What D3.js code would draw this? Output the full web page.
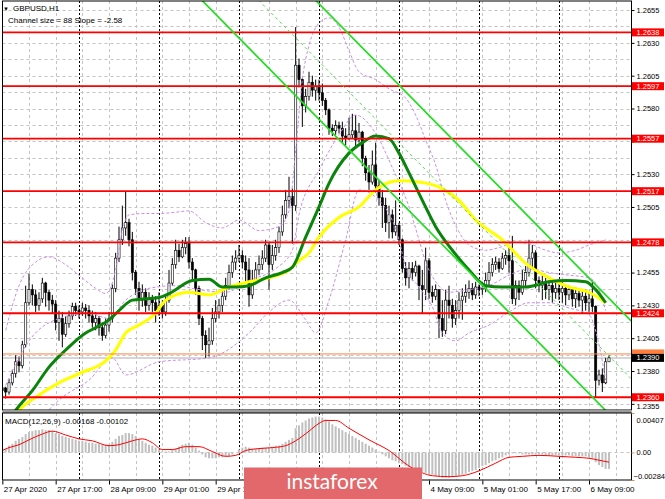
<!DOCTYPE html>
<html><head><meta charset="utf-8">
<script src="https://cdn.jsdelivr.net/npm/d3@7"></script>
<style>
html,body{margin:0;padding:0;background:#fff;}
svg{display:block;}
text{font-family:"Liberation Sans",Arial,sans-serif;}
</style></head>
<body>
<svg id="chart" width="665" height="499"></svg>
<script>
// ---------------- DATA ----------------
const symbolTitle = "GBPUSD,H1";
const channelText = "Channel size = 88 Slope = -2.58";
const macdTitle = "MACD(12,26,9) -0.00168 -0.00102";
const firstBar = 1; // bar index of the first candle (27 Apr 01:00), one bar per hour

const opens = [
1.2365,1.2367,1.2364,1.2371,1.2378,1.2387,1.2384,1.2400,1.2432,1.2442,1.2438,1.2430,1.2435,1.2447,1.2440,1.2434,1.2431,1.2417,1.2420,1.2408,1.2416,1.2422,1.2429,
1.2426,1.2425,1.2428,1.2426,1.2422,1.2417,1.2420,1.2413,1.2407,1.2415,1.2420,1.2443,1.2466,1.2480,1.2489,1.2493,1.2480,1.2455,1.2443,1.2434,1.2440,1.2430,1.2435,1.2432,
1.2426,1.2430,1.2425,1.2434,1.2447,1.2461,1.2472,1.2467,1.2474,1.2477,1.2463,1.2457,1.2443,1.2420,1.2407,1.2400,1.2403,1.2420,1.2425,1.2430,1.2437,1.2445,1.2455,1.2463,
1.2466,1.2468,1.2463,1.2457,1.2438,1.2449,1.2457,1.2461,1.2466,1.2476,1.2461,1.2468,1.2474,1.2486,1.2499,1.2510,1.2513,1.2506,1.2613,1.2602,1.2582,1.2589,1.2600,1.2594,
1.2597,1.2592,1.2586,1.2579,1.2565,1.2563,1.2567,1.2565,1.2559,1.2557,1.2560,1.2563,1.2556,1.2562,1.2542,1.2531,1.2524,1.2537,1.2521,1.2512,1.2506,1.2493,1.2499,1.2486,
1.2491,1.2480,1.2458,1.2451,1.2458,1.2455,1.2460,1.2445,1.2442,1.2464,1.2440,1.2437,1.2442,1.2420,1.2411,1.2434,1.2430,1.2420,1.2426,1.2434,1.2437,1.2440,1.2443,1.2438,
1.2444,1.2442,1.2443,1.2449,1.2455,1.2461,1.2463,1.2458,1.2466,1.2468,1.2464,1.2435,1.2445,1.2440,1.2449,1.2455,1.2466,1.2470,1.2449,1.2445,1.2448,1.2442,1.2445,1.2440,
1.2443,1.2440,1.2443,1.2438,1.2442,1.2435,1.2439,1.2434,1.2437,1.2432,1.2435,1.2429,1.2373,1.2377,1.2371,1.2387];
const highs = [
1.2369,1.2368,1.2374,1.2381,1.2392,1.2391,1.2403,1.2445,1.2454,1.2446,1.2442,1.2440,1.2451,1.2448,1.2442,1.2438,1.2434,1.2426,1.2425,1.2422,1.2426,1.2432,1.2432,
1.2430,1.2432,1.2431,1.2430,1.2426,1.2425,1.2422,1.2417,1.2420,1.2425,1.2446,1.2470,1.2490,1.2506,1.2517,1.2496,1.2486,1.2457,1.2448,1.2446,1.2443,1.2440,1.2438,1.2437,
1.2440,1.2434,1.2437,1.2457,1.2466,1.2480,1.2477,1.2480,1.2482,1.2482,1.2466,1.2458,1.2445,1.2422,1.2411,1.2413,1.2428,1.2434,1.2435,1.2442,1.2451,1.2461,1.2468,1.2472,
1.2476,1.2472,1.2468,1.2466,1.2457,1.2463,1.2468,1.2472,1.2480,1.2478,1.2476,1.2480,1.2490,1.2506,1.2518,1.2528,1.2519,1.2642,1.2618,1.2603,1.2595,1.2608,1.2605,1.2602,
1.2602,1.2599,1.2588,1.2580,1.2568,1.2571,1.2570,1.2570,1.2565,1.2573,1.2576,1.2575,1.2569,1.2563,1.2544,1.2537,1.2548,1.2554,1.2525,1.2518,1.2512,1.2506,1.2503,1.2510,
1.2493,1.2481,1.2463,1.2463,1.2463,1.2464,1.2461,1.2457,1.2474,1.2466,1.2445,1.2446,1.2442,1.2434,1.2442,1.2445,1.2435,1.2434,1.2440,1.2443,1.2446,1.2449,1.2447,1.2448,
1.2446,1.2448,1.2455,1.2463,1.2466,1.2467,1.2466,1.2470,1.2472,1.2474,1.2483,1.2449,1.2449,1.2457,1.2460,1.2480,1.2476,1.2472,1.2452,1.2453,1.2451,1.2449,1.2448,1.2449,
1.2447,1.2449,1.2445,1.2445,1.2443,1.2444,1.2443,1.2442,1.2442,1.2441,1.2449,1.2430,1.2381,1.2382,1.2390,1.2392];
const lows = [
1.2363,1.2359,1.2362,1.2369,1.2375,1.2379,1.2382,1.2398,1.2430,1.2430,1.2425,1.2426,1.2432,1.2429,1.2426,1.2424,1.2411,1.2403,1.2398,1.2406,1.2413,1.2419,1.2422,
1.2420,1.2422,1.2420,1.2417,1.2413,1.2411,1.2407,1.2403,1.2405,1.2410,1.2417,1.2440,1.2463,1.2476,1.2483,1.2475,1.2449,1.2438,1.2426,1.2429,1.2425,1.2426,1.2425,1.2417,
1.2422,1.2420,1.2422,1.2432,1.2445,1.2458,1.2463,1.2466,1.2469,1.2458,1.2449,1.2438,1.2415,1.2396,1.2390,1.2391,1.2400,1.2417,1.2420,1.2425,1.2434,1.2442,1.2451,1.2457,
1.2463,1.2458,1.2448,1.2429,1.2435,1.2448,1.2453,1.2457,1.2463,1.2442,1.2457,1.2464,1.2470,1.2483,1.2496,1.2504,1.2477,1.2502,1.2596,1.2566,1.2577,1.2586,1.2589,1.2586,
1.2586,1.2582,1.2575,1.2560,1.2559,1.2560,1.2561,1.2554,1.2552,1.2556,1.2557,1.2551,1.2554,1.2536,1.2525,1.2518,1.2522,1.2516,1.2506,1.2489,1.2486,1.2481,1.2481,1.2483,
1.2476,1.2455,1.2445,1.2443,1.2449,1.2452,1.2434,1.2424,1.2434,1.2435,1.2432,1.2434,1.2405,1.2406,1.2408,1.2420,1.2413,1.2415,1.2420,1.2419,1.2432,1.2435,1.2434,1.2435,
1.2437,1.2438,1.2440,1.2445,1.2452,1.2457,1.2455,1.2457,1.2461,1.2455,1.2431,1.2430,1.2434,1.2438,1.2444,1.2452,1.2457,1.2443,1.2440,1.2434,1.2435,1.2434,1.2432,1.2435,
1.2434,1.2432,1.2430,1.2434,1.2429,1.2428,1.2429,1.2424,1.2426,1.2425,1.2425,1.2360,1.2369,1.2364,1.2370,1.2387];
const closes = [
1.2367,1.2364,1.2371,1.2378,1.2387,1.2384,1.2400,1.2432,1.2442,1.2438,1.2430,1.2435,1.2447,1.2440,1.2434,1.2431,1.2417,1.2420,1.2408,1.2416,1.2422,1.2429,1.2426,
1.2425,1.2428,1.2426,1.2422,1.2417,1.2420,1.2413,1.2407,1.2415,1.2420,1.2443,1.2466,1.2480,1.2489,1.2493,1.2480,1.2455,1.2443,1.2434,1.2440,1.2430,1.2435,1.2432,1.2426,
1.2430,1.2425,1.2434,1.2447,1.2461,1.2472,1.2467,1.2474,1.2477,1.2463,1.2457,1.2443,1.2420,1.2407,1.2400,1.2403,1.2420,1.2425,1.2430,1.2437,1.2445,1.2455,1.2463,1.2466,
1.2468,1.2463,1.2457,1.2438,1.2449,1.2457,1.2461,1.2466,1.2476,1.2461,1.2468,1.2474,1.2486,1.2499,1.2510,1.2513,1.2506,1.2613,1.2602,1.2582,1.2589,1.2600,1.2594,1.2597,
1.2592,1.2586,1.2579,1.2565,1.2563,1.2567,1.2565,1.2559,1.2557,1.2560,1.2563,1.2556,1.2562,1.2542,1.2531,1.2524,1.2537,1.2521,1.2512,1.2506,1.2493,1.2499,1.2486,1.2491,
1.2480,1.2458,1.2451,1.2458,1.2455,1.2460,1.2445,1.2442,1.2464,1.2440,1.2437,1.2442,1.2420,1.2411,1.2434,1.2430,1.2420,1.2426,1.2434,1.2437,1.2440,1.2443,1.2438,1.2444,
1.2442,1.2443,1.2449,1.2455,1.2461,1.2463,1.2458,1.2466,1.2468,1.2464,1.2435,1.2445,1.2440,1.2449,1.2455,1.2466,1.2470,1.2449,1.2445,1.2448,1.2442,1.2445,1.2440,1.2443,
1.2440,1.2443,1.2438,1.2442,1.2435,1.2439,1.2434,1.2437,1.2432,1.2435,1.2429,1.2373,1.2377,1.2371,1.2387,1.2390];

// moving averages (bar index, price)
const maFastBars = [3,5,10,15,20,26,29,33,36,40,44,48,51,58,63,67,71,75,80,85,88,92,96,99,105,109,113,117,120,123,127,131,136,141,146,151,158,165,170,176,179,182];
const maFast = [1.2342,1.2350,1.2365,1.2383,1.2396,1.2409,1.2413,1.2419,1.2426,1.2434,1.2435,1.2436,1.2439,1.2449,1.2450,1.2444,1.2444,1.2445,1.2451,1.2455,1.2459,1.2482,1.2505,1.2523,1.2546,1.2554,1.2559,1.2557,1.2546,1.2531,1.2510,1.2490,1.2472,1.2457,1.2445,1.2444,1.2444,1.2448,1.2449,1.2448,1.2442,1.2432];
const maSlowBars = [4,6,11,18,24,33,35,38,42,47,50,57,63,69,75,81,87,90,93,96,102,108,113,120,126,133,138,143,151,158,165,171,177,182];
const maSlow = [1.2343,1.2350,1.2360,1.2371,1.2378,1.2390,1.2396,1.2409,1.2415,1.2424,1.2434,1.2440,1.2438,1.2444,1.2448,1.2451,1.2457,1.2464,1.2470,1.2482,1.2497,1.2505,1.2518,1.2525,1.2524,1.2519,1.2510,1.2495,1.2480,1.2462,1.2451,1.2444,1.2440,1.2432];

// bands (dashed violet)
const bbUpperBars = [2,6,11,15,20,24,29,32,35,37,39,44,48,53,57,62,67,72,78,84,87,89,91,93,96,99,102,105,108,113,117,122,125,128,131,134,138,141,146,150,155,159,164,168,173,177,182];
const bbUpper = [1.2411,1.2445,1.2463,1.2467,1.2461,1.2453,1.2443,1.2439,1.2457,1.2487,1.2499,1.2500,1.2500,1.2501,1.2502,1.2493,1.2489,1.2495,1.2487,1.2490,1.2502,1.2548,1.2602,1.2628,1.2645,1.2649,1.2642,1.2624,1.2608,1.2602,1.2595,1.2588,1.2575,1.2556,1.2537,1.2510,1.2486,1.2476,1.2472,1.2474,1.2478,1.2477,1.2472,1.2470,1.2472,1.2476,1.2480];
const bbMidBars = [2,9,18,27,33,38,45,53,60,68,75,83,88,90,96,102,107,113,118,123,126,128,131,135,141,147,153,159,165,171,177,180,182];
const bbMid = [1.2369,1.2403,1.2420,1.2424,1.2420,1.2434,1.2443,1.2445,1.2442,1.2440,1.2449,1.2458,1.2472,1.2499,1.2533,1.2560,1.2575,1.2561,1.2535,1.2505,1.2480,1.2463,1.2448,1.2440,1.2442,1.2445,1.2453,1.2458,1.2455,1.2453,1.2451,1.2442,1.2426];
const bbLowerBars = [12,18,27,34,38,48,63,75,81,87,92,95,99,104,108,114,120,122,126,130,133,137,141,147,153,159,165,171,177,180,182];
const bbLower = [1.2342,1.2358,1.2373,1.2390,1.2377,1.2387,1.2390,1.2409,1.2425,1.2434,1.2419,1.2409,1.2434,1.2480,1.2518,1.2510,1.2480,1.2459,1.2444,1.2429,1.2409,1.2403,1.2409,1.2415,1.2425,1.2432,1.2432,1.2428,1.2423,1.2400,1.2373];

// equidistant channel
const channelAnchorBar = 96;
const channelAnchorPrice = 1.25718;   // lower line at anchor bar
const channelSlope = -0.000258;       // price per bar (-2.58 pips)
const channelSize = 0.0088;           // 88 pips

// horizontal levels
const levelPrices = [1.2638, 1.2597, 1.2557, 1.2517, 1.2478, 1.2424, 1.2360];
const orangeLevel = 1.2393;
const bidPrice = 1.2390;

// axes
const priceTicks = [1.2355,1.2380,1.2405,1.2430,1.2455,1.2480,1.2505,1.2530,1.2555,1.2580,1.2605,1.2630,1.2655];
const priceTicksUnderLabels = [1.2480, 1.2555];          // hidden behind level boxes
const timeLabelBars = [1,17,33,49,65,81,97,113,129,145,161,177];
const timeLabels = ["27 Apr 2020","27 Apr 17:00","28 Apr 09:00","29 Apr 01:00","29 Apr 17:00","30 Apr 09:00","1 May 01:00","1 May 17:00","4 May 09:00","5 May 01:00","5 May 17:00","6 May 09:00"];
const timeLabelsUnderLogo = ["30 Apr 09:00","1 May 01:00","1 May 17:00"]; // covered by the watermark
const daySeparatorBars = [24,48,72,96,120,144,168];

// MACD
const macdHist = [
0.0003,0.0004,0.0007,0.0009,0.0012,0.0014,0.0016,0.0019,0.0021,0.0022,0.0023,0.0023,0.0024,0.0023,0.0023,0.0022,0.0020,0.0019,0.0017,0.0016,0.0015,0.0014,0.0013,
0.0012,0.0012,0.0011,0.0010,0.0010,0.0009,0.0009,0.0008,0.0008,0.0008,0.0011,0.0014,0.0017,0.0018,0.0020,0.0020,0.0019,0.0017,0.0014,0.0012,0.0010,0.0008,0.0007,0.0005,
0.0003,0.0001,0.0001,0.0001,0.0003,0.0004,0.0006,0.0008,0.0009,0.0010,0.0008,0.0005,0.0002,-0.0002,-0.0005,-0.0006,-0.0006,-0.0006,-0.0005,-0.0005,-0.0004,-0.0004,-0.0002,0.0000,
0.0003,0.0005,0.0006,0.0005,0.0004,0.0004,0.0004,0.0005,0.0005,0.0005,0.0006,0.0007,0.0007,0.0009,0.0011,0.0013,0.0015,0.0025,0.0028,0.0031,0.0033,0.0035,0.0036,0.0037,
0.0037,0.0036,0.0034,0.0032,0.0029,0.0027,0.0025,0.0023,0.0021,0.0019,0.0017,0.0015,0.0013,0.0011,0.0009,0.0007,0.0005,0.0003,0.0001,-0.0002,-0.0004,-0.0006,-0.0008,-0.0009,
-0.0011,-0.0012,-0.0014,-0.0015,-0.0017,-0.0018,-0.0019,-0.0020,-0.0021,-0.0022,-0.0023,-0.0024,-0.0025,-0.0026,-0.0026,-0.0026,-0.0025,-0.0025,-0.0024,-0.0023,-0.0022,-0.0020,-0.0019,-0.0018,
-0.0016,-0.0014,-0.0013,-0.0011,-0.0009,-0.0008,-0.0006,-0.0005,-0.0003,-0.0002,-0.0001,-0.0001,-0.0001,-0.0002,-0.0002,-0.0002,-0.0002,-0.0002,-0.0002,-0.0002,-0.0003,-0.0003,-0.0003,-0.0003,
-0.0003,-0.0003,-0.0003,-0.0003,-0.0004,-0.0004,-0.0004,-0.0004,-0.0004,-0.0005,-0.0006,-0.0010,-0.0013,-0.0015,-0.0017,-0.0017];
const signalBars = [1,3,6,9,13,16,20,24,28,33,36,40,43,46,49,52,56,60,64,68,71,74,78,82,86,89,93,96,98,101,105,111,117,123,127,130,135,139,144,149,153,157,162,168,173,177,180,183];
const signalVals = [0.0002,0.0005,0.0008,0.0013,0.0019,0.0022,0.0018,0.0014,0.0012,0.0007,0.0008,0.0012,0.0014,0.0010,0.0003,0.0003,0.0006,0.0006,0.0001,-0.0004,-0.0003,0.0002,0.0004,0.0005,0.0007,0.0012,0.0022,0.0030,0.0033,0.0033,0.0025,0.0013,0.0002,-0.0014,-0.0021,-0.0024,-0.0025,-0.0024,-0.0019,-0.0011,-0.0005,-0.0004,-0.0003,-0.0004,-0.0005,-0.0006,-0.0008,-0.0010];
const macdMax = 0.00407, macdMin = -0.00284;

// ---------------- LAYOUT ----------------
const plotL = 2.5, plotR = 631.5, pTop = 1, pBot = 410, mTop = 413, mBot = 480;
const boxH = 8;
const svg = d3.select('#chart');
svg.append('rect').attr('width', 665).attr('height', 499).attr('fill', '#fff');

const x = d3.scaleLinear().domain([0, 189]).range([-1, 629]);
const y = d3.scaleLinear().domain([1.23503, 1.26619]).range([pBot, pTop]);
const ym = d3.scaleLinear().domain([macdMin, macdMax]).range([mBot, mTop]);

const defs = svg.append('defs');
defs.append('clipPath').attr('id', 'clipP').append('rect')
  .attr('x', plotL).attr('y', pTop).attr('width', plotR - plotL).attr('height', pBot - pTop);
defs.append('clipPath').attr('id', 'clipM').append('rect')
  .attr('x', plotL).attr('y', mTop).attr('width', plotR - plotL).attr('height', mBot - mTop);

const gP = svg.append('g').attr('clip-path', 'url(#clipP)');
const gM = svg.append('g').attr('clip-path', 'url(#clipM)');

// grid
const gridPrices = priceTicks.flatMap((p, k) => k ? [(p + priceTicks[k - 1]) / 2, p] : [p]);
gP.selectAll('line.hg').data(gridPrices).join('line')
  .attr('x1', plotL).attr('x2', plotR)
  .attr('y1', d => Math.round(y(d)) + 0.5).attr('y2', d => Math.round(y(d)) + 0.5)
  .attr('stroke', '#c4c4c4').attr('stroke-dasharray', '3,3');
const gridBars = d3.range(1, 190, 8);
[gP, gM].forEach((g, gi) => {
  const t = gi ? mTop : pTop, b = gi ? mBot : pBot;
  g.selectAll('line.vg').data(gridBars).join('line')
    .attr('x1', d => Math.round(x(d)) + 0.5).attr('x2', d => Math.round(x(d)) + 0.5)
    .attr('y1', t).attr('y2', b).attr('stroke', '#c4c4c4').attr('stroke-dasharray', '3,3');
  g.selectAll('line.ds').data(daySeparatorBars).join('line')
    .attr('x1', d => Math.round(x(d)) + 0.5).attr('x2', d => Math.round(x(d)) + 0.5)
    .attr('y1', t).attr('y2', b).attr('stroke', '#000').attr('stroke-dasharray', '2,2');
});

// bid line (gray)
gP.append('line').attr('x1', plotL).attr('x2', plotR)
  .attr('y1', y(bidPrice)).attr('y2', y(bidPrice)).attr('stroke', '#c8c8c8').attr('stroke-width', 1.5);

// candles
const bars = closes.map((c, k) => ({ i: firstBar + k, o: opens[k], h: highs[k], l: lows[k], c }));
gP.selectAll('line.wick').data(bars).join('line')
  .attr('x1', d => x(d.i)).attr('x2', d => x(d.i))
  .attr('y1', d => y(d.h)).attr('y2', d => y(d.l))
  .attr('stroke', '#000').attr('stroke-width', 1);
gP.selectAll('rect.body').data(bars).join('rect')
  .attr('x', d => x(d.i) - 1.1).attr('width', 2.2)
  .attr('y', d => y(Math.max(d.o, d.c)))
  .attr('height', d => Math.max(0.8, Math.abs(y(d.o) - y(d.c))))
  .attr('fill', d => d.c >= d.o ? '#fff' : '#000')
  .attr('stroke', '#000').attr('stroke-width', 0.6);

// bands
const curveLine = d3.line().x(d => x(d[0])).y(d => y(d[1])).curve(d3.curveMonotoneX);
[[bbUpperBars, bbUpper], [bbMidBars, bbMid], [bbLowerBars, bbLower]].forEach(([b, v]) => {
  gP.append('path').attr('d', curveLine(b.map((bi, k) => [bi, v[k]])))
    .attr('fill', 'none').attr('stroke', '#c98ee8').attr('stroke-width', 1).attr('stroke-dasharray', '3,2');
});

// moving averages
gP.append('path').attr('d', curveLine(maSlowBars.map((bi, k) => [bi, maSlow[k]])))
  .attr('fill', 'none').attr('stroke', '#ffff00').attr('stroke-width', 3);
gP.append('path').attr('d', curveLine(maFastBars.map((bi, k) => [bi, maFast[k]])))
  .attr('fill', 'none').attr('stroke', '#0a840a').attr('stroke-width', 3);

// horizontal levels
gP.append('line').attr('x1', plotL).attr('x2', plotR)
  .attr('y1', y(orangeLevel)).attr('y2', y(orangeLevel)).attr('stroke', '#ff7f3f').attr('stroke-width', 1);
gP.selectAll('line.lvl').data(levelPrices).join('line')
  .attr('x1', plotL).attr('x2', plotR)
  .attr('y1', d => y(d)).attr('y2', d => y(d))
  .attr('stroke', '#ff0000').attr('stroke-width', 1.8);

// channel
const chPrice = (bar, off) => channelAnchorPrice + off + channelSlope * (bar - channelAnchorBar);
const chBars = [40, 200];
[[0, false], [channelSize, false], [channelSize / 2, true]].forEach(([off, dashed]) => {
  gP.append('line')
    .attr('x1', x(chBars[0])).attr('y1', y(chPrice(chBars[0], off)))
    .attr('x2', x(chBars[1])).attr('y2', y(chPrice(chBars[1], off)))
    .attr('stroke', dashed ? '#4fdc4f' : '#22dd22')
    .attr('stroke-width', dashed ? 1 : 1.7)
    .attr('stroke-dasharray', dashed ? '3,3' : null);
});

// MACD panel
gM.append('line').attr('x1', plotL).attr('x2', plotR)
  .attr('y1', Math.round(ym(0)) + 0.5).attr('y2', Math.round(ym(0)) + 0.5)
  .attr('stroke', '#c4c4c4').attr('stroke-dasharray', '3,3');
gM.selectAll('rect.hist').data(macdHist).join('rect')
  .attr('x', (d, k) => x(firstBar + k) - 1).attr('width', 2)
  .attr('y', d => Math.min(ym(d), ym(0)))
  .attr('height', d => Math.abs(ym(d) - ym(0)))
  .attr('fill', '#c0c0c0');
const sigLine = d3.line().x(d => x(d[0])).y(d => ym(d[1])).curve(d3.curveMonotoneX);
gM.append('path').attr('d', sigLine(signalBars.map((b, k) => [b, signalVals[k]])))
  .attr('fill', 'none').attr('stroke', '#ff0000').attr('stroke-width', 1);

// frames
svg.append('rect').attr('x', plotL).attr('y', pTop).attr('width', plotR - plotL).attr('height', pBot - pTop)
  .attr('fill', 'none').attr('stroke', '#000').attr('stroke-width', 1);
svg.append('rect').attr('x', plotL).attr('y', pBot).attr('width', plotR - plotL).attr('height', mTop - pBot)
  .attr('fill', '#9a9a9a');
svg.append('rect').attr('x', plotL).attr('y', mTop).attr('width', plotR - plotL).attr('height', mBot - mTop)
  .attr('fill', 'none').attr('stroke', '#000').attr('stroke-width', 1);

// price axis
const fmt4 = d3.format('.4f');
const axP = svg.append('g').attr('transform', `translate(${plotR},0)`)
  .call(d3.axisRight(y).tickValues(priceTicks)
    .tickFormat(d => priceTicksUnderLabels.includes(d) ? '' : fmt4(d)).tickSize(3).tickPadding(2));
axP.select('.domain').remove();
axP.selectAll('text').style('font-size', '7.5px').style('font-family', '"Liberation Sans",Arial,sans-serif').attr('fill', '#000')
  .attr('y', d => d === priceTicks[0] ? 2 : 0);   // lowest label sits just under the 1.2360 box
axP.selectAll('line').attr('stroke', '#000');

// MACD axis
const axM = svg.append('g').attr('transform', `translate(${plotR},0)`)
  .call(d3.axisRight(ym).tickValues([macdMax, 0, macdMin])
    .tickFormat(d => d === 0 ? '0.00' : d3.format('.5f')(d)).tickSize(3).tickPadding(2));
axM.select('.domain').remove();
axM.selectAll('line').attr('stroke', '#d9914f');
axM.selectAll('text').style('font-size', '7.5px').style('font-family', '"Liberation Sans",Arial,sans-serif').attr('fill', '#000')
  .attr('y', d => d === macdMax ? 7 : d === macdMin ? -4 : 0)
  .attr('x', d => d < 0 ? 2 : 5);

// time axis
const axT = svg.append('g').attr('transform', `translate(0,${mBot + 0.5})`)
  .call(d3.axisBottom(x).tickValues(timeLabelBars)
    .tickFormat((d, k) => timeLabelsUnderLogo.includes(timeLabels[k]) ? '' : timeLabels[k]).tickSize(4).tickPadding(2));
axT.select('.domain').remove();
axT.selectAll('line').attr('stroke', '#000');
axT.selectAll('text').style('font-size', '8px').style('font-family', '"Liberation Sans",Arial,sans-serif')
  .attr('fill', '#000').attr('text-anchor', 'start').attr('dx', 1);

// level labels
const labelG = svg.append('g');
function priceBox(p, fill, txtFill) {
  labelG.append('rect').attr('x', plotR + 0.5).attr('y', y(p) - boxH / 2).attr('width', 32).attr('height', boxH).attr('fill', fill);
  labelG.append('text').attr('x', plotR + 5).attr('y', y(p)).attr('dy', '0.34em')
    .style('font-size', '7.5px').attr('fill', txtFill).text(fmt4(p));
}
// orange box sits mostly under the bid box: only its coloured edge shows
labelG.append('rect').attr('x', plotR + 0.5).attr('y', y(orangeLevel) - boxH / 2 - 0.5).attr('width', 32).attr('height', boxH).attr('fill', '#ff7f3f');
levelPrices.forEach(p => priceBox(p, '#ff0000', '#fff'));
priceBox(bidPrice, '#000', '#fff');

// header texts
svg.append('text').attr('x', 3).attr('y', 10.5).style('font-size', '6px').text('▼');
svg.append('text').attr('x', 13).attr('y', 11).style('font-size', '8px').attr('fill', '#000').text(symbolTitle);
svg.append('text').attr('x', 8).attr('y', 23).style('font-size', '8px').attr('fill', '#000').text(channelText);
svg.append('text').attr('x', 5).attr('y', 423.5).style('font-size', '8px').attr('fill', '#000').text(macdTitle);

// watermark
svg.append('rect').attr('x', 244).attr('y', 467.5).attr('width', 178).attr('height', 33).attr('fill', '#e2686c');
svg.append('text').attr('x', 332).attr('y', 488.5).attr('text-anchor', 'middle')
  .style('font-family', 'Lato,"Open Sans",sans-serif').style('font-size', '21px').attr('fill', '#fff').text('instaforex');
</script>
</body></html>
